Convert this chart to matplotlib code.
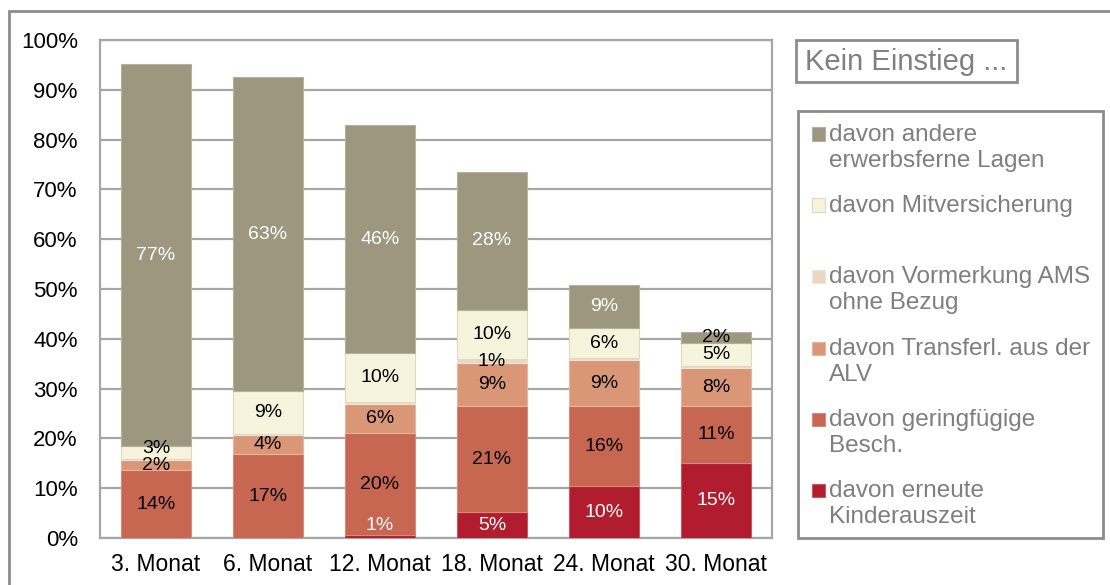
import matplotlib.pyplot as plt
from matplotlib.patches import Rectangle
import numpy as np

plt.rcParams['font.family'] = ['Liberation Sans', 'DejaVu Sans']

months = ['3. Monat', '6. Monat', '12. Monat', '18. Monat', '24. Monat', '30. Monat']

# stacked from bottom to top
erneut = [0.0, 0.0, 0.6, 5.2, 10.4, 15.1]
geringf = [13.6, 16.8, 20.4, 21.3, 16.1, 11.4]
transfer = [2.0, 3.8, 5.9, 8.6, 9.2, 7.6]
vormerkung = [0.2, 0.3, 0.4, 0.8, 0.4, 0.4]
mitvers = [2.7, 8.6, 9.8, 9.9, 6.1, 4.7]
andere = [76.6, 63.0, 45.8, 27.7, 8.6, 2.2]

series = [erneut, geringf, transfer, vormerkung, mitvers, andere]
names = ['davon erneute\nKinderauszeit', 'davon geringfügige\nBesch.',
         'davon Transferl. aus der\nALV', 'davon Vormerkung AMS\nohne Bezug',
         'davon Mitversicherung', 'davon andere\nerwerbsferne Lagen']
colors = ['#B11D2F', '#C76651', '#D99777', '#EAD7C3', '#F6F4DC', '#9C977E']
edges = ['#C85560', '#D88A78', '#E6B49C', '#F0E4D6', '#DDDBC4', '#B5B19C']
label_white = [True, False, False, False, False, True]

W, H = 1110, 585
fig = plt.figure(figsize=(W / 100, H / 100), dpi=100)


def fx(x):
    return x / W


def fy(y):
    return 1 - y / H


# outer chart border
fig.patches.append(Rectangle((fx(9), -0.1), 1.2, fy(11) + 0.1, transform=fig.transFigure,
                             fill=False, edgecolor='#8C8C8C', lw=2))

ax = fig.add_axes([fx(100), fy(538), (772 - 100) / W, (538 - 40) / H])
x = np.arange(len(months))
bottom = np.zeros(len(months))
last = np.full(len(months), -10.0)
for vals, col, ec, white in zip(series, colors, edges, label_white):
    vals = np.array(vals)
    ax.bar(x, vals, 0.625, bottom=bottom, color=col, edgecolor=ec, lw=0.8, zorder=3)
    for i, v in enumerate(vals):
        if round(v) >= 1:
            yc = max(bottom[i] + v / 2, 2.5)
            yc = max(yc, last[i] + 3.4)
            last[i] = yc
            tc = 'white' if (white and v >= 4) or (white and col == '#B11D2F') else 'black'
            ax.text(x[i], yc, f'{round(v)}%', ha='center', va='center',
                    fontsize=14, color=tc, zorder=4)
    bottom += vals

ax.set_xlim(-0.5, 5.5)
ax.set_ylim(0, 100)
ax.set_yticks(np.arange(0, 101, 10))
ax.set_yticklabels([f'{v}%' for v in range(0, 101, 10)], fontsize=16)
ax.set_xticks(x)
ax.set_xticklabels(months, fontsize=16.5)
ax.tick_params(axis='y', length=0, pad=16)
ax.tick_params(axis='x', length=0, pad=11)
ax.grid(axis='y', color='#A6A6A6', lw=1.6, zorder=0)
for s in ax.spines.values():
    s.set_color('#A6A6A6')
    s.set_linewidth(1.6)

# title box
fig.patches.append(Rectangle((fx(796), fy(82)), (1017 - 796) / W, 42 / H,
                             transform=fig.transFigure, fill=False,
                             edgecolor='#8C8C8C', lw=2))
fig.text(fx(805), fy(62), 'Kein Einstieg ...', fontsize=21, color='#7F7F7F',
         ha='left', va='center')

# legend box
fig.patches.append(Rectangle((fx(798), fy(538)), (1103 - 798) / W, (538 - 111) / H,
                             transform=fig.transFigure, fill=False,
                             edgecolor='#8C8C8C', lw=2))
ycent = [134, 205, 276, 348, 419, 490]
for k, idx in enumerate(range(len(series) - 1, -1, -1)):
    yc = ycent[k]
    fig.patches.append(Rectangle((fx(812), fy(yc + 6.5)), 13 / W, 13 / H,
                                 transform=fig.transFigure, facecolor=colors[idx],
                                 edgecolor=edges[idx], lw=0.8))
    fig.text(fx(829), fy(yc - 10), names[idx], fontsize=17.5, color='#7F7F7F',
             ha='left', va='top', linespacing=1.22)

fig.savefig('out.png', dpi=100)
